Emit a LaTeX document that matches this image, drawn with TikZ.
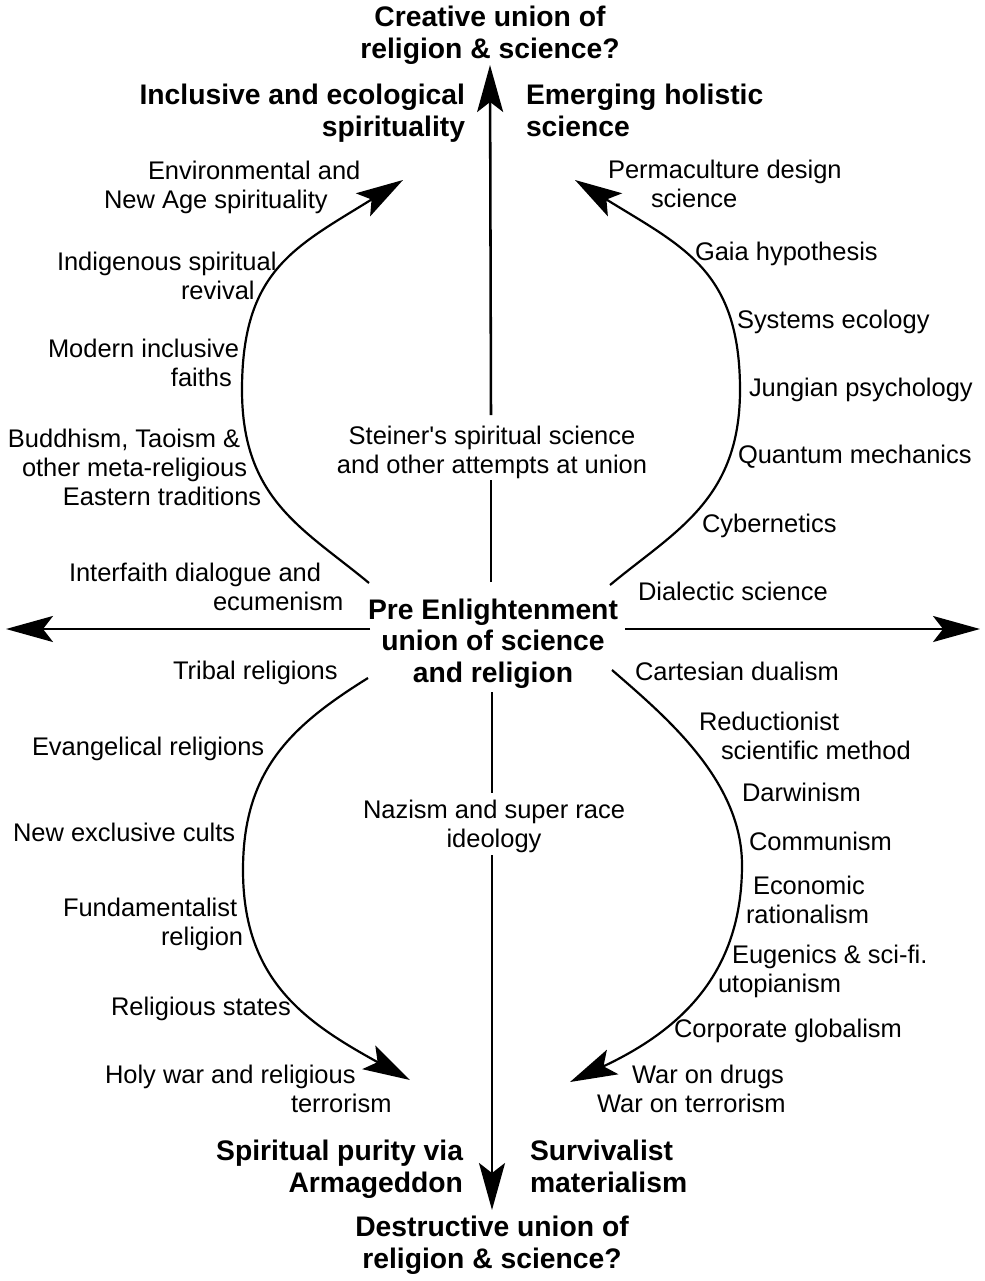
\documentclass[tikz,border=0pt]{standalone}
\usepackage{fontspec}
\setmainfont{Liberation Sans}
\usetikzlibrary{arrows.meta}
\newdimen\pxu \pxu=0.02cm
\begin{document}
\begin{tikzpicture}[x=0.02cm,y=-0.02cm,
  lbl/.style={font=\fontsize{14.5pt}{16.4pt}\selectfont, inner sep=0pt, outer sep=0pt, align=left, anchor=base west},
  ctr/.style={font=\fontsize{14.5pt}{16.4pt}\selectfont, inner sep=0pt, outer sep=0pt, align=center, anchor=base},
  bld/.style={font=\bfseries\fontsize{16.1pt}{17.8pt}\selectfont, inner sep=0pt, outer sep=0pt},
  arr/.style={line width=1.45pt, -{Stealth[length=0.94cm,width=0.52cm,inset=0.2cm]}},
  seg/.style={line width=1.45pt},
  curv/.style={line width=1.25pt, -{Stealth[length=0.94cm,width=0.54cm,inset=0.2cm]}}]
\useasboundingbox (0,0) rectangle (984,1281);

% (multi-line nodes are placed by the baseline of their last line)
% ---- titles and headings ----
\node[bld, align=center, anchor=base] (creative) at (490,58) {Creative union of\\religion \& science?};
\node[bld, align=center, anchor=base] (destructive) at (492,1268) {Destructive union of\\religion \& science?};
\node[bld, align=right, anchor=base east] (inclusive) at (465,136) {Inclusive and ecological\\spirituality};
\node[bld, align=left, anchor=base west] (emerging) at (526,136) {Emerging holistic\\science};
\node[bld, align=right, anchor=base east] (purity) at (463,1192) {Spiritual purity via\\Armageddon};
\node[bld, align=left, anchor=base west] (surv) at (530,1192) {Survivalist\\materialism};
\node[bld, align=center, anchor=base] (pre) at (493,682) {Pre Enlightenment\\union of science\\and religion};

% ---- centre labels ----
\node[ctr] (steiner) at (492,473) {Steiner\textquotesingle s spiritual science\\and other attempts at union};
\node[ctr] (nazism) at (494,847) {Nazism and super race\\ideology};

% ---- upper left ----
\node[lbl] (env) at (104,208) {\hspace*{44\pxu}Environmental and\\New Age spirituality};
\node[lbl] (indig) at (57,299) {Indigenous spiritual\\\hspace*{124\pxu}revival};
\node[lbl] (modern) at (48,386) {Modern inclusive\\\hspace*{123\pxu}faiths};
\node[lbl] (buddh) at (8,505) {Buddhism, Taoism \&\\\hspace*{14\pxu}other meta-religious\\\hspace*{55\pxu}Eastern traditions};
\node[lbl] (inter) at (69,610) {Interfaith dialogue and\\\hspace*{144\pxu}ecumenism};

% ---- upper right ----
\node[lbl] (perma) at (608,207) {Permaculture design\\\hspace*{43\pxu}science};
\node[lbl] (gaia) at (695,260) {Gaia hypothesis};
\node[lbl] (systems) at (737,328) {Systems ecology};
\node[lbl] (jung) at (749,396) {Jungian psychology};
\node[lbl] (quantum) at (738,463) {Quantum mechanics};
\node[lbl] (cyber) at (702,532) {Cybernetics};
\node[lbl] (dialectic) at (638,600) {Dialectic science};

% ---- lower left ----
\node[lbl] (tribal) at (173,679) {Tribal religions};
\node[lbl] (evang) at (32,755) {Evangelical religions};
\node[lbl] (cults) at (13,841) {New exclusive cults};
\node[lbl] (fund) at (63,945) {Fundamentalist\\\hspace*{98\pxu}religion};
\node[lbl] (states) at (111,1015) {Religious states};
\node[lbl] (holy) at (105,1112) {Holy war and religious\\\hspace*{186\pxu}terrorism};

% ---- lower right ----
\node[lbl] (cart) at (635,680) {Cartesian dualism};
\node[lbl] (reduc) at (699,759) {Reductionist\\\hspace*{22\pxu}scientific method};
\node[lbl] (darwin) at (742,801) {Darwinism};
\node[lbl] (comm) at (749,850) {Communism};
\node[lbl] (econ) at (746,923) {\hspace*{7\pxu}Economic\\rationalism};
\node[lbl] (eugen) at (718,992) {\hspace*{14\pxu}Eugenics \& sci-fi.\\utopianism};
\node[lbl] (corp) at (674,1037) {Corporate globalism};
\node[lbl] (war) at (597,1112) {\hspace*{35\pxu}War on drugs\\War on terrorism};

% ---- connector end points ----
\coordinate (upA) at (491,582);
\coordinate (upB) at (491,480);
\coordinate (upC) at (491,415);
\coordinate (upTip) at (490,65);
\coordinate (dnA) at (492,692);
\coordinate (dnB) at (492,793);
\coordinate (dnC) at (492,855);
\coordinate (dnTip) at (492,1210);
\coordinate (lfA) at (370,629);
\coordinate (lfTip) at (6,629);
\coordinate (rtA) at (625,629);
\coordinate (rtTip) at (980,629);

% ---- axes ----
\draw[seg] (upA) -- (upB);
\draw[arr] (upC) -- (upTip);
\draw[seg] (dnA) -- (dnB);
\draw[arr] (dnC) -- (dnTip);
\draw[arr] (lfA) -- (lfTip);
\draw[arr] (rtA) -- (rtTip);

% ---- curved arrows ----
\coordinate (ulS) at (369,583);
\coordinate (ulM) at (242,390);
\coordinate (ulE) at (403,180);
\coordinate (urS) at (610,585);
\coordinate (urM) at (740,390);
\coordinate (urE) at (575,180);
\coordinate (llS) at (368,678);
\coordinate (llM) at (243,870);
\coordinate (llE) at (410,1080);
\coordinate (lrS) at (612,670);
\coordinate (lrM) at (742,865);
\coordinate (lrE) at (570,1082);

\draw[curv] (ulS) .. controls (304,529) and (242,500) .. (ulM)
                  .. controls (242,270) and (295,247) .. (ulE);
\draw[curv] (urS) .. controls (675,531) and (740,500) .. (urM)
                  .. controls (740,270) and (683,247) .. (urE);
\draw[curv] (llS) .. controls (291.5,725.7) and (243,770) .. (llM)
                  .. controls (243,980) and (304.8,1022) .. (llE);
\draw[curv] (lrS) .. controls (664.8,716) and (742,780) .. (lrM)
                  .. controls (742,975) and (678.7,1031) .. (lrE);
\end{tikzpicture}
\end{document}
